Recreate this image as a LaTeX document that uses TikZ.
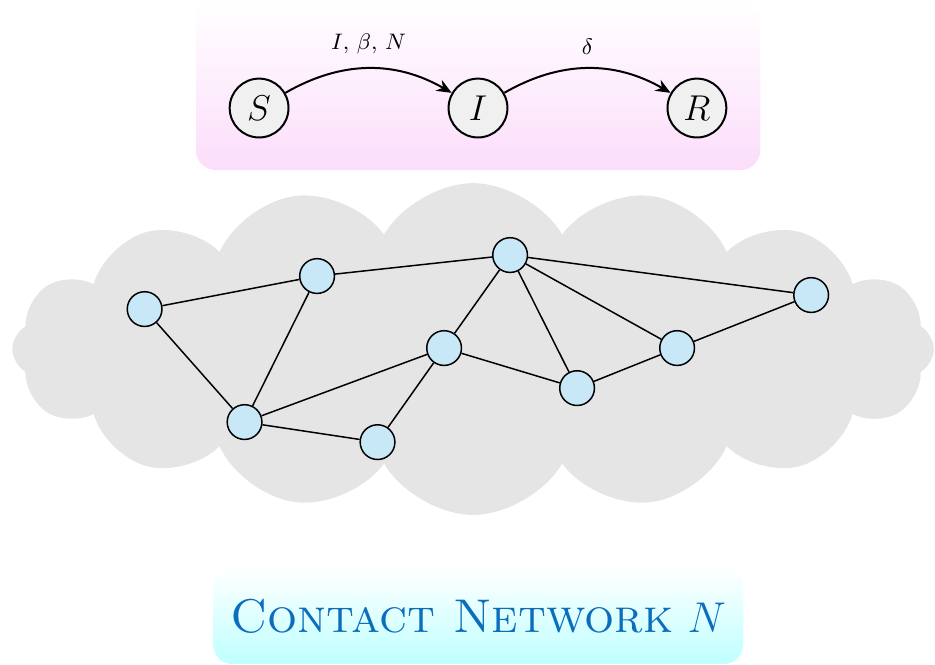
\documentclass[tikz,border=0pt]{standalone}
\usepackage{amsmath,amssymb,amsfonts}
\usepackage{tikz}
\usepackage{xcolor}
\usetikzlibrary{arrows.meta,positioning,shapes,shapes.symbols,calc,backgrounds}
\definecolor{sirpink}  {HTML}{FCDDFB}
\definecolor{netcyan}  {HTML}{BFFFFF}
\definecolor{cloudgray}{HTML}{E5E5E5}
\definecolor{hostblue} {HTML}{C8E7F7}
\definecolor{statefill}{HTML}{F0F0F0}
\definecolor{titleblue}{HTML}{0A6EBD}

\begin{document}
\begin{tikzpicture}[
    state/.style={circle,draw,thick,fill=statefill,minimum size=0.83cm,inner sep=0pt,font=\Large},
    host/.style={circle,draw,semithick,fill=hostblue,minimum size=0.49cm,inner sep=0pt},
    flow/.style={-{Stealth[length=6pt,width=5pt]},thick,bend left=30},
    link/.style={semithick}
  ]
  \useasboundingbox (0,0) rectangle (13.19,-9.37);

  % compartment model
  \node[rounded corners=8pt,top color=white,bottom color=sirpink,
        minimum width=7.96cm,minimum height=2.40cm] (model) at (6.745,-1.199) {};
  \node[state] (S) at (3.655,-1.524) {$S$};
  \node[state,right=2.23cm of S] (I) {$I$};
  \node[state,right=2.23cm of I] (R) {$R$};
  \draw (S) edge[flow] node[above=2pt,font=\small] {$I$, $\beta$, $N$} (I)
        (I) edge[flow] node[above=2pt,font=\small] {$\delta$} (R);

  % contact network
  \node[cloud,cloud puffs=16,cloud puff arc=120,aspect=2.8,fill=cloudgray,
        minimum width=13.0cm,minimum height=4.68cm] (contacts) at (6.674,-4.924) {};
  \node[host] (h1) at (2.040,-4.360) {};
  \node[host] (h2) at (4.473,-3.894) {};
  \node[host] (h3) at (7.196,-3.598) {};
  \node[host] (h4) at (11.443,-4.162) {};
  \node[host] (h5) at (6.265,-4.910) {};
  \node[host] (h6) at (9.552,-4.910) {};
  \node[host] (h7) at (8.141,-5.475) {};
  \node[host] (h8) at (3.450,-5.954) {};
  \node[host] (h9) at (5.326,-6.237) {};
  \foreach \a/\b in {h1/h2,h2/h3,h3/h4,h1/h8,h2/h8,h8/h5,h8/h9,h9/h5,
                     h5/h3,h5/h7,h3/h7,h3/h6,h7/h6,h6/h4}
    \draw[link] (\a) -- (\b);

  \node[rounded corners=8pt,top color=white,bottom color=netcyan,
        minimum width=7.48cm,minimum height=1.355cm,text=titleblue,
        font=\fontsize{19}{23}\selectfont] (caption) at (6.745,-8.692)
    {\textsc{Contact Network} $N$};
\end{tikzpicture}
\end{document}
